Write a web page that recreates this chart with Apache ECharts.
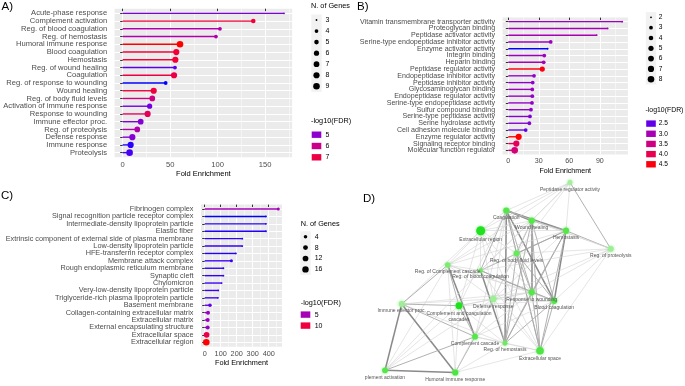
<!DOCTYPE html>
<html><head><meta charset="utf-8">
<script src="https://cdn.jsdelivr.net/npm/echarts@6/dist/echarts.min.js"></script>
<style>html,body{margin:0;padding:0;background:#fff}#c{width:685px;height:386px}</style>
</head><body><div id="c"></div>
<script>
// ---------- Panel A : biological process ----------
const catsA = ['Acute-phase response','Complement activation','Reg. of blood coagulation','Reg. of hemostasis','Humoral immune response','Blood coagulation','Hemostasis','Reg. of wound healing','Coagulation','Reg. of response to wounding','Wound healing','Reg. of body fluid levels','Activation of immune response','Response to wounding','Immune effector proc.','Reg. of proteolysis','Defense response','Immune response','Proteolysis'];
const foldA = [170,137.6,102.5,98.3,60.4,56.5,55.5,55.1,54.1,45.3,32.7,31.2,28.4,26.3,19,15.4,10.2,8.4,7.3];
const genesA = [3,5,4,4,9,8,8,4,8,4,8,7,6,8,7,7,8,8,9];
const fdrA = [4.8,7.2,5.5,5.5,7.7,7.2,7.2,4.55,7.0,4.3,7.1,6.1,4.7,6.7,4.9,5.5,4.9,4.35,4.45];
const ticksA = [0,50,100,150];
const minorA = [25,75,125,175];
const sizeBreaksA = [3,4,5,6,7,8,9];
const colorBreaksA = [5,6,7];

// ---------- Panel B : molecular function ----------
const catsB = ['Vitamin transmembrane transporter activity','Proteoglycan binding','Peptidase activator activity','Serine-type endopeptidase inhibitor activity','Enzyme activator activity','Integrin binding','Heparin binding','Peptidase regulator activity','Endopeptidase inhibitor activity','Peptidase inhibitor activity','Glycosaminoglycan binding','Endopeptidase regulator activity','Serine-type endopeptidase activity','Sulfur compound binding','Serine-type peptidase activity','Serine hydrolase activity','Cell adhesion molecule binding','Enzyme regulator activity','Signaling receptor binding','Molecular function regulator'];
const foldB = [112,97.7,86.9,41.7,38.7,35.4,34.8,33.4,25.3,24,23.6,23.6,23.3,22.3,21.3,20.7,17.1,10.2,7.9,6.3];
const genesB = [2,2,2,3,2,3,3,5,3,3,3,3,3,3,3,3,3,7,7,8];
const fdrB = [2.9,3.0,3.0,2.9,2.3,2.9,3.0,4.5,2.8,2.8,2.9,2.8,2.8,2.8,2.7,2.7,2.5,4.55,3.9,3.6];
const ticksB = [0,30,60,90];
const minorB = [15,45,75,105];
const sizeBreaksB = [2,3,4,5,6,7,8];
const colorBreaksB = [2.5,3.0,3.5,4.0,4.5];
const colorLabelsB = ['2.5','3.0','3.5','4.0','4.5'];

// ---------- Panel C : cellular component ----------
const catsC = ['Fibrinogen complex','Signal recognition particle receptor complex','Intermediate-density lipoprotein particle','Elastic fiber','Extrinsic component of external side of plasma membrane','Low-density lipoprotein particle','HFE-transferrin receptor complex','Membrane attack complex','Rough endoplasmic reticulum membrane','Synaptic cleft','Chylomicron','Very-low-density lipoprotein particle','Triglyceride-rich plasma lipoprotein particle','Basement membrane','Collagen-containing extracellular matrix','Extracellular matrix','External encapsulating structure','Extracellular space','Extracellular region'];
const foldC = [460,383,383,383,235,235,195,167,117,117,106,85,83,33,21,19,19,12,10];
const genesC = [3,2,2,2,2,2,2,3,2,2,2,2,2,4,5,5,5,12,17];
const fdrC = [5.0,2.2,2.3,2.3,2.4,2.4,2.3,2.5,2.4,2.4,2.5,2.5,2.5,3.0,4.6,4.6,4.6,9.5,11.7];
const ticksC = [0,100,200,300,400];
const minorC = [50,150,250,350,450];
const sizeBreaksC = [4,8,12,16];
const colorBreaksC = [5,10];

// ---------- Panel D : network ----------
const nodeIds = ['PRA','COAG','WH','HEMO','ECR','RPROT','RBFL','RCC','RBC','RTW','DEF','BC','CCC','IEP','CC','RHEMO','ECS','CA','HIR'];
const nodeNames = ['Peptidase regulator activity','Coagulation','Wound healing','Hemostasis','Extracellular region','Reg. of proteolysis','Reg. of body fluid levels','Reg. of Complement cascade','Reg. of blood coagulation','Response to wounding','Defense response','Blood coagulation','Complement and coagulation cascades','Immune effector proc.','Complement cascade','Reg. of hemostasis','Extracellular space','Complement activation','Humoral immune response'];
const nodeLabels = ['Peptidase regulator activity','Coagulation','Wound healing','Hemostasis','Extracellular region','Reg. of proteolysis','Reg. of body fluid levels','Reg. of Complement cascade','Reg. of blood coagulation','Response to wounding','Defense response','Blood coagulation','Complement and coagulation\ncascades','Immune effector proc.','Complement cascade','Reg. of hemostasis','Extracellular space','plement activation','Humoral immune response'];
const nodeX = [220,156.3,181.7,216,130.7,260.8,166.5,97.7,130.5,181.7,143.3,204.2,109,51.7,125,155,190,35,105.2];
const nodeY = [4.5,32.5,42.7,52.7,52.7,70.8,75.3,87,92.5,114.3,121,122.8,127.7,126,158.7,165.3,172.7,192.3,194.5];
const nodeGenes = [5,8,8,8,17,7,7,6,4,8,8,8,10,7,7,5,12,7,8];
const nodeSig = [0.25,0.8,0.8,0.8,1.0,0.3,0.7,0.55,0.65,0.8,0.3,0.8,1.0,0.3,0.8,0.65,0.85,0.8,0.85];
const edges = [
 ['COAG','HEMO',3],['COAG','WH',3],['WH','HEMO',2],
 ['COAG','RHEMO',3],['COAG','RTW',2],['COAG','BC',3],['COAG','ECS',2],['COAG','RBFL',2],['COAG','RBC',2],['COAG','DEF',1],['COAG','CC',1],['COAG','CCC',1],
 ['WH','RTW',3],['WH','BC',2],['WH','RHEMO',2],['WH','ECS',2],['WH','RBFL',2],['WH','RBC',1],['WH','DEF',1],['WH','CC',1],
 ['HEMO','BC',3],['HEMO','RHEMO',2],['HEMO','RTW',2],['HEMO','RBFL',2],['HEMO','ECS',2],['HEMO','RPROT',2],['HEMO','RBC',2],['HEMO','DEF',1],
 ['RBFL','RTW',2],['RBFL','BC',2],['RBFL','RHEMO',2],['RBFL','ECS',2],['RBFL','RBC',1],['RBFL','DEF',1],
 ['RBC','RHEMO',3],['RBC','BC',2],['RBC','RTW',2],['RBC','ECS',1],
 ['RTW','BC',2],['RTW','ECS',2],['RTW','RHEMO',2],['BC','ECS',2],['BC','RHEMO',2],['RHEMO','ECS',1],
 ['RPROT','PRA',2],['RPROT','BC',1],['RPROT','RTW',1],['RPROT','ECS',1],['RPROT','RBFL',1],['RPROT','WH',1],['RPROT','COAG',1],['RPROT','DEF',1],['RPROT','RBC',1],
 ['PRA','COAG',1],['PRA','WH',1],['PRA','HEMO',1],['PRA','RBFL',1],['PRA','ECR',1],['PRA','RCC',1],['PRA','RBC',1],
 ['ECR','COAG',1],['ECR','WH',1],['ECR','HEMO',1],['ECR','RCC',1],['ECR','RBC',1],['ECR','CCC',1],['ECR','DEF',1],['ECR','RTW',1],['ECR','RBFL',1],['ECR','IEP',1],['ECR','ECS',1],
 ['RCC','CC',3],['RCC','CCC',2],['RCC','HIR',1],['RCC','CA',1],['RCC','IEP',2],['RCC','RBC',1],['RCC','RTW',1],['RCC','BC',1],['RCC','DEF',1],['RCC','HEMO',1],['RCC','WH',1],
 ['IEP','CA',3],['IEP','HIR',3],['IEP','CCC',2],['IEP','CC',2],['IEP','DEF',1],['IEP','RTW',1],['IEP','RHEMO',1],
 ['CA','HIR',3],['CA','CC',2],['CA','CCC',1],['CA','DEF',1],['CA','RBC',1],
 ['HIR','CC',2],['HIR','CCC',1],['HIR','DEF',1],['HIR','ECS',1],['HIR','RHEMO',1],
 ['CC','CCC',2],['CC','DEF',1],['CC','RHEMO',1],['CC','RTW',1],['CC','BC',1],['CC','ECS',1],
 ['CCC','DEF',1],['CCC','RTW',1],['CCC','BC',1],['CCC','RHEMO',1],
 ['DEF','RTW',1],['DEF','BC',1],['DEF','RHEMO',1],['DEF','ECS',1]
];

// ---------- colour helpers (CIELAB interpolation like ggplot) ----------
function hexToRgb(h){return [1,3,5].map(i=>parseInt(h.slice(i,i+2),16)/255);}
function rgbToLab(rgb){
  const lin=c=>c<=0.04045?c/12.92:Math.pow((c+0.055)/1.055,2.4);
  const [r,g,b]=rgb.map(lin);
  const X=(0.4124564*r+0.3575761*g+0.1804375*b)/0.95047;
  const Y=(0.2126729*r+0.7151522*g+0.0721750*b);
  const Z=(0.0193339*r+0.1191920*g+0.9503041*b)/1.08883;
  const f=t=>t>0.008856?Math.cbrt(t):7.787*t+16/116;
  const fx=f(X),fy=f(Y),fz=f(Z);
  return [116*fy-16,500*(fx-fy),200*(fy-fz)];
}
function labToHex(lab){
  const [L,a,b]=lab;
  const fy=(L+16)/116, fx=fy+a/500, fz=fy-b/200;
  const fi=t=>t>0.206893?t*t*t:(t-16/116)/7.787;
  const X=fi(fx)*0.95047, Y=fi(fy), Z=fi(fz)*1.08883;
  let r=3.2404542*X-1.5371385*Y-0.4985314*Z;
  let g=-0.9692660*X+1.8760108*Y+0.0415560*Z;
  let bb=0.0556434*X-0.2040259*Y+1.0572252*Z;
  const gam=c=>{c=c<=0.0031308?12.92*c:1.055*Math.pow(Math.max(c,0),1/2.4)-0.055;return Math.round(Math.min(1,Math.max(0,c))*255);};
  return '#'+[r,g,bb].map(gam).map(v=>v.toString(16).padStart(2,'0')).join('');
}
function makeGradient(lo,hi){
  const a=rgbToLab(hexToRgb(lo)), b=rgbToLab(hexToRgb(hi));
  return t=>{t=Math.max(0,Math.min(1,t));return labToHex([0,1,2].map(i=>a[i]+(b[i]-a[i])*t));};
}
const blueRed = makeGradient('#0000FF','#FF0000');
const greenShade = makeGradient('#BDF2BD','#1EE21E');

const FONT = '"Liberation Sans", Arial, sans-serif';
const grids=[], xAxes=[], yAxes=[], series=[], graphics=[];

function txt(x,y,text,size,color,align){
  graphics.push({type:'text',x:x,y:y,silent:true,style:{text:text,font:size+'px '+FONT,fill:color||'#000',textAlign:align||'left',textVerticalAlign:'middle'}});
}

function addPanel(p){
  const gi=grids.length;
  grids.push({left:p.left,top:p.top,width:p.width,height:p.height,show:true,backgroundColor:'#EBEBEB',borderWidth:0});
  const n=p.cats.length;
  const vmax=Math.max(...p.fold), ex=vmax*0.05;
  const fmin=Math.min(...p.fdr), fmax=Math.max(...p.fdr);
  const gmin=Math.min(...p.genes), gmax=Math.max(...p.genes);
  const col=v=>blueRed((v-fmin)/(fmax-fmin));
  const size=g=>1.8+4.8*Math.sqrt(Math.max(0,(g-gmin)/(gmax-gmin)));
  const pos=p.cats.map((_,i)=>i+0.6);
  // empty sentinel labels at the axis ends absorb ECharts' min/max overlap hiding
  const labelPos=[0].concat(pos,[n+0.2]);
  const xi=xAxes.length;
  xAxes.push({gridIndex:gi,type:'value',min:-ex,max:vmax+ex,position:'bottom',
    axisLine:{show:false},
    axisTick:{show:true,length:2.5,customValues:p.ticks,lineStyle:{color:'#333',width:1}},
    axisLabel:{customValues:p.ticks,showMinLabel:true,showMaxLabel:true,color:'#4D4D4D',fontSize:p.fs,fontFamily:FONT,margin:3.5},
    splitLine:{show:true,lineStyle:{color:'#FFFFFF',width:1}},
    name:'Fold Enrichment',nameLocation:'middle',nameGap:p.nameGap,
    nameTextStyle:{color:'#000',fontSize:p.nfs,fontFamily:FONT}});
  xAxes.push({gridIndex:gi,type:'value',min:-ex,max:vmax+ex,position:'top',
    axisLine:{show:false},axisTick:{show:false,customValues:p.minor},
    axisLabel:{show:false,customValues:p.minor},
    splitLine:{show:true,lineStyle:{color:'#FFFFFF',width:0.5}}});
  const yi=yAxes.length;
  yAxes.push({gridIndex:gi,type:'value',min:0,max:n+0.2,inverse:true,
    axisLine:{show:false},
    axisTick:{show:true,length:2.5,customValues:pos,lineStyle:{color:'#333',width:1}},
    axisLabel:{customValues:labelPos,hideOverlap:false,
      formatter:v=>{const k=v-0.6;return Math.abs(k-Math.round(k))<1e-6?(p.cats[Math.round(k)]||''):'';},
      color:'#4D4D4D',fontSize:p.fs,fontFamily:FONT,margin:7.5},
    splitLine:{show:true,lineStyle:{color:'#FFFFFF',width:1}}});
  const colors=p.fdr.map(col);
  series.push({type:'custom',xAxisIndex:xi,yAxisIndex:yi,silent:true,
    data:p.fold.map((v,i)=>[v,pos[i]]),
    renderItem:(params,api)=>{
      const y=api.value(1);
      const a=api.coord([0,y]), b=api.coord([api.value(0),y]);
      return {type:'line',shape:{x1:a[0],y1:a[1],x2:b[0],y2:b[1]},style:{stroke:colors[params.dataIndex],lineWidth:1.4}};
    }});
  series.push({type:'scatter',xAxisIndex:xi,yAxisIndex:yi,silent:true,
    data:p.fold.map((v,i)=>({value:[v,pos[i]],symbolSize:size(p.genes[i]),itemStyle:{color:colors[i],opacity:1}}))});
  // size legend
  const L=p.leg;
  const lf=L.fs||7.3;
  if(L.sizeTitle) txt(L.x,L.sizeTitle,'N. of Genes',lf,'#000');
  const sb=p.sizeBreaks;
  graphics.push({type:'rect',silent:true,shape:{x:L.keyCx-5.2,y:L.s0-L.sd/2,width:10.4,height:L.sd*sb.length},style:{fill:'#F2F2F2'}});
  sb.forEach((g,i)=>{
    const cy=L.s0+i*L.sd;
    graphics.push({type:'circle',silent:true,shape:{cx:L.keyCx,cy:cy,r:size(g)/2},style:{fill:'#000'}});
    txt(L.lx,cy,String(g),lf-0.3,'#000');
  });
  // colour legend
  txt(L.x,L.cTitle,'-log10(FDR)',lf,'#000');
  p.colorBreaks.forEach((v,i)=>{
    const cy=L.c0+i*L.cd;
    graphics.push({type:'rect',silent:true,shape:{x:L.keyCx-4.8,y:cy-3.2,width:9.6,height:6.4},style:{fill:col(v)}});
    txt(L.lx,cy,p.colorLabels?p.colorLabels[i]:String(v),lf-0.3,'#000');
  });
}

addPanel({cats:catsA,fold:foldA,genes:genesA,fdr:fdrA,ticks:ticksA,minor:minorA,sizeBreaks:sizeBreaksA,colorBreaks:colorBreaksA,
  left:114.6,top:8.7,width:177.5,height:148.6,fs:7.6,nfs:7.5,nameGap:13,
  leg:{x:311,sizeTitle:6,s0:20,sd:11.05,keyCx:316.5,lx:325.5,cTitle:121,c0:134.7,cd:11.3,fs:7.3}});
addPanel({cats:catsB,fold:foldB,genes:genesB,fdr:fdrB,ticks:ticksB,minor:minorB,sizeBreaks:sizeBreaksB,colorBreaks:colorBreaksB,colorLabels:colorLabelsB,
  left:502.6,top:17.6,width:125.3,height:136.8,fs:7.1,nfs:7.1,nameGap:13,
  leg:{x:645.5,sizeTitle:null,s0:17.3,sd:10.33,keyCx:651,lx:658.7,cTitle:110,c0:123.6,cd:10.17,fs:6.9}});
addPanel({cats:catsC,fold:foldC,genes:genesC,fdr:fdrC,ticks:ticksC,minor:minorC,sizeBreaks:sizeBreaksC,colorBreaks:colorBreaksC,
  left:201,top:204.6,width:81,height:142.1,fs:7.3,nfs:7.3,nameGap:12.5,
  leg:{x:300.7,sizeTitle:224.3,s0:236.7,sd:10.9,keyCx:305.5,lx:314.7,cTitle:303.3,c0:314.6,cd:11,fs:7.3}});

// panel letters
txt(1.5,7,'A)',11.5,'#000');
txt(357,7,'B)',11.5,'#000');
txt(1,196,'C)',11.5,'#000');
txt(363,198.5,'D)',11.5,'#000');

// network panel
const gD=grids.length;
grids.push({left:350,top:178,width:335,height:208,show:false});
const xD=xAxes.length;
xAxes.push({gridIndex:gD,type:'value',min:0,max:335,show:false});
const yD=yAxes.length;
yAxes.push({gridIndex:gD,type:'value',min:0,max:208,inverse:true,show:false});
const edgeStyle={1:{color:'#D4D4D4',width:0.6},2:{color:'#A8A8A8',width:0.9},3:{color:'#8A8A8A',width:1.5}};
series.push({type:'graph',coordinateSystem:'cartesian2d',xAxisIndex:xD,yAxisIndex:yD,silent:true,roam:false,
  symbol:'circle',
  lineStyle:{opacity:1,curveness:0},
  data:nodeNames.map((nm,i)=>({name:nm,value:[nodeX[i],nodeY[i]],symbolSize:2.2*Math.sqrt(nodeGenes[i]),
    itemStyle:{color:greenShade(nodeSig[i]),shadowBlur:3,shadowColor:'rgba(120,235,120,0.9)'},
    label:{show:true,position:'bottom',distance:1.2,formatter:nodeLabels[i],fontSize:5,lineHeight:6,color:'#555',fontFamily:FONT}})),
  links:edges.map(e=>({source:nodeIds.indexOf(e[0]),target:nodeIds.indexOf(e[1]),lineStyle:Object.assign({opacity:1},edgeStyle[e[2]])}))
});

const chart=echarts.init(document.getElementById('c'),null,{renderer:'canvas'});
chart.setOption({animation:false,backgroundColor:'#fff',grid:grids,xAxis:xAxes,yAxis:yAxes,series:series,graphic:{elements:graphics}});
</script></body></html>
